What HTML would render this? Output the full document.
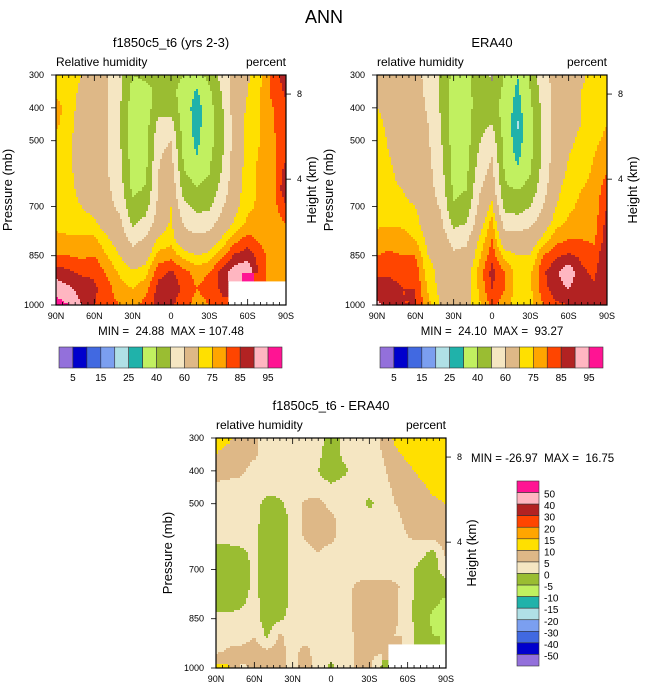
<!DOCTYPE html>
<html><head><meta charset="utf-8"><style>
html,body{margin:0;padding:0;background:#fff;}
svg{display:block;font-family:"Liberation Sans",Arial,sans-serif;}
.pre{white-space:pre;}
</style></head><body>
<svg id="chart" width="648" height="692" viewBox="0 0 648 692" xmlns="http://www.w3.org/2000/svg">
<text x="324" y="23" font-size="18" text-anchor="middle">ANN</text>
<g id="p1"></g>
<g id="p2"></g>
<g id="p3"></g>
<g id="cb1"></g>
<g id="cb2"></g>
<g id="cb3"></g>
</svg>
<script>
const lats=[90,80,70,60,50,40,30,20,10,0,-10,-20,-30,-40,-50,-60,-70,-80,-90];
const pressures=[300,350,400,450,500,550,600,650,700,750,800,850,900,950,1000];
const rhLevels=[5,10,15,20,25,30,40,50,60,70,75,80,85,90,95];
const rhLabels=["5","15","25","40","60","75","85","95"];
const diffLevels=[-50,-40,-30,-20,-15,-10,-5,0,5,10,15,20,30,40,50];
const diffLabels=["50","40","30","20","15","10","5","0","-5","-10","-15","-20","-30","-40","-50"];
const colors=["#9370db","#0000cd","#4169e1","#7b9ff0","#b0e0e6","#20b2aa","#c1f060","#9abd32","#f5e6c2","#deb887","#ffe000","#ffa500","#ff4500","#b22222","#ffb6c1","#ff1493"];
const N=NaN;
const modelCols=[
[72,74,77,76,73,72,72,72,72,73,77,80,88,93,97],
[72,72,73,72,71,71,71,71,71,72,76,80,86,91,95],
[70,69,67,67,67,67,68,69,70,72,76,79,84,88,90],
[66,65,65,64,64,64,65,66,68,71,76,80,84,86,85],
[61,61,61,61,61,61,61,62,63,66,71,75,79,82,82],
[53,52,51,51,51,52,53,55,58,62,66,70,74,77,80],
[40,36,35,34,34,35,36,38,42,48,57,64,71,75,78],
[42,37,35,35,35,36,38,41,46,53,61,67,73,78,82],
[42,42,46,53,57,59,60,61,62,65,71,77,83,87,87],
[43,42,46,54,60,63,66,68,70,71,73,78,86,88,86],
[40,37,35,35,36,38,41,46,53,59,64,73,82,84,82],
[36,29,26,27,28,30,36,41,47,54,63,70,78,80,78],
[43,38,36,35,36,38,40,43,48,56,64,72,80,82,80],
[54,51,49,48,48,49,51,54,59,64,71,79,87,86,83],
[64,64,65,65,65,65,66,67,68,71,78,86,93,N,N],
[69,70,71,72,72,72,73,73,74,76,82,88,95,N,N],
[74,75,75,75,75,76,76,76,76,77,79,82,83,N,N],
[82,82,80,80,79,79,78,78,78,78,78,77,76,N,N],
[88,86,84,83,83,84,88,90,84,80,78,76,76,N,N]];
const eraCols=[
[60,66,70,72,73,73,73,73,73,74,77,80,84,87,91],
[64,66,68,68,69,70,71,71,72,74,78,81,84,87,88],
[66,66,66,66,66,67,68,70,72,74,77,80,83,85,85],
[63,63,64,64,64,64,65,66,70,72,75,80,83,85,85],
[57,58,59,60,61,62,63,64,65,66,68,70,72,74,77],
[48,48,49,50,51,53,54,56,59,62,66,68,68,68,69],
[37,36,35,35,35,36,37,38,41,47,56,62,66,67,68],
[38,37,36,36,36,37,38,40,44,50,58,63,66,67,68],
[44,44,45,47,49,52,56,59,62,66,71,74,77,76,74],
[52,47,46,50,56,60,63,66,72,77,80,83,87,85,82],
[39,37,35,35,36,37,39,42,47,56,64,73,80,80,77],
[30,28,27,24,26,28,32,40,45,55,65,70,73,73,72],
[42,40,38,37,37,38,40,44,50,58,65,70,74,74,73],
[58,55,53,52,52,52,54,56,60,65,72,80,84,83,80],
[62,64,65,65,65,66,67,68,70,73,78,84,89,88,84],
[62,66,68,69,69,70,71,73,74,76,80,86,94,90,85],
[69,70,70,70,71,72,73,75,76,77,80,84,86,87,88],
[72,72,72,73,74,75,76,77,77,78,79,82,84,86,86],
[73,73,74,75,76,78,80,83,85,87,88,90,90,90,90]];
const diffRows=[
[12,11,8,6,3,2,5,3,2,-2,1,2,2,6,11,13,11,11,12],
[10,8,7,6,3,2,3,2,1,-3,1,2,2,5,9,11,12,12,12],
[7,7,6,3,2,2,2,2,0,-3,-1,2,2,4,7,9,11,12,12],
[4,3,3,2,2,2,2,2,2,1,2,2,2,3,6,7,9,11,12],
[3,2,2,2,-2,-1,2,6,7,3,2,2,-1,2,5,6,8,9,10],
[2,2,2,2,-3,-2,1,6,8,7,2,2,2,2,4,6,7,8,9],
[2,2,2,1,-3,-2,1,6,8,7,2,2,2,2,3,5,6,7,8],
[-2,-2,-1,1,-3,-2,1,2,5,2,2,2,2,2,3,4,2,-2,6],
[-3,-3,-2,1,-3,-2,1,2,2,2,2,2,2,2,2,2,-2,-3,4],
[-3,-3,-2,1,-3,-2,1,2,2,2,2,6,7,7,6,3,-3,-4,-3],
[-3,-3,-1,2,-3,-2,1,2,2,2,2,7,7,7,6,2,-3,-4,-6],
[2,2,2,2,-3,-1,2,2,2,2,2,7,8,8,6,2,-3,-6,-8],
[2,2,2,5,-1,6,2,2,2,2,2,6,7,6,5,2,-2,-5,-8],
[4,6,7,7,6,7,3,7,2,2,2,6,6,6,N,N,N,N,N],
[12,11,4,6,6,7,3,8,2,-1,2,6,6,-1,N,N,N,N,N]];
const xTickLabels=["90N","60N","30N","0","30S","60S","90S"];
const xTickLats=[90,60,30,0,-30,-60,-90];
const pTicks=[300,400,500,700,850,1000];
const hTicks=[8,4];
const hTickPressures=[358,617];

const NS="http://www.w3.org/2000/svg";
function mk(tag,attrs,parent,text){const e=document.createElementNS(NS,tag);for(const k in attrs)e.setAttribute(k,attrs[k]);if(text!==undefined)e.textContent=text;parent.appendChild(e);return e;}
function colorFor(v,levels){let i=0;while(i<levels.length&&v>=levels[i])i++;return colors[i];}

function drawPanel(g,x0,y0,getV,levels,o){
  const W=230,H=230;
  const xs=lat=>x0+(90-lat)/180*W;
  const ys=p=>y0+(p-300)/700*H;
  const step=2;
  const nr=pressures.length,nc=lats.length;
  for(let sy=0;sy<H;sy+=step){
    const p=300+(sy+step/2)/H*700;
    const fr=Math.min((p-300)/50,nr-1.0001);
    let runStart=0,runColor=null;
    const flush=(end)=>{ if(runColor&&runColor!=="none"){
        const r=mk('rect',{x:x0+runStart,y:y0+sy,width:end-runStart+0.4,height:step+0.4,fill:runColor},g);
        
        }};
    for(let sx=0;sx<W;sx+=step){
      const lat=90-(sx+step/2)/W*180;
      const fc=Math.min((90-lat)/10,nc-1.0001);
      const r0=Math.floor(fr),c0=Math.floor(fc),tr=fr-r0,tc=fc-c0;
      const a=getV(r0,c0),b=getV(r0,c0+1),c=getV(r0+1,c0),d=getV(r0+1,c0+1);
      let v;
      if(isNaN(a)||isNaN(b)||isNaN(c)||isNaN(d)){
        v=getV(Math.round(fr),Math.round(fc));
      } else v=a*(1-tr)*(1-tc)+b*(1-tr)*tc+c*tr*(1-tc)+d*tr*tc;
      const col=isNaN(v)?"none":colorFor(v,levels);
      if(col!==runColor){flush(sx);runStart=sx;runColor=col;}
    }
    flush(W);
  }
  const fr=mk('rect',{x:x0,y:y0,width:W,height:H,fill:'none',stroke:'#000','stroke-width':1.2},g);
  
  for(let lat=90;lat>=-90;lat-=5){
    const x=xs(lat);const major=(lat%30===0);const L=major?6:3;
    mk('line',{x1:x,y1:y0,x2:x,y2:y0+L,stroke:'#000','stroke-width':0.8},g);
    mk('line',{x1:x,y1:y0+H,x2:x,y2:y0+H-L,stroke:'#000','stroke-width':0.8},g);
  }
  xTickLats.forEach((lat,i)=>{const t=mk('text',{x:xs(lat),y:y0+H+14,'font-size':9,'text-anchor':'middle'},g,xTickLabels[i]);
    });
  pTicks.forEach(p=>{const y=ys(p);mk('line',{x1:x0-5,y1:y,x2:x0,y2:y,stroke:'#000','stroke-width':0.8},g);
    const t=mk('text',{x:x0-12,y:y+3,'font-size':9,'text-anchor':'end'},g,String(p));
    });
  hTicks.forEach((h,i)=>{const y=ys(hTickPressures[i]);mk('line',{x1:x0+W,y1:y,x2:x0+W+5,y2:y,stroke:'#000','stroke-width':0.8},g);
    const t=mk('text',{x:x0+W+11,y:y+3,'font-size':9},g,String(h));
    });
  let t;
  t=mk('text',{x:x0+W/2,y:o.titleY,'font-size':13,'text-anchor':'middle'},g,o.title);
  
  t=mk('text',{x:x0,y:y0-9,'font-size':12},g,o.left);
  
  t=mk('text',{x:x0+W,y:y0-9,'font-size':12,'text-anchor':'end'},g,'percent');
  
  const px=x0-44, hx=x0+W+30;
  t=mk('text',{x:px,y:y0+H/2,'font-size':13,'text-anchor':'middle',transform:`rotate(-90 ${px} ${y0+H/2})`},g,'Pressure (mb)');
  
  t=mk('text',{x:hx,y:y0+H/2,'font-size':13,'text-anchor':'middle',transform:`rotate(-90 ${hx} ${y0+H/2})`},g,'Height (km)');
  
  t=mk('text',{x:o.mmX,y:o.mmY,'font-size':11.5,'text-anchor':o.mmAnchor,'class':'pre'},g,o.mm);
  
}

drawPanel(document.getElementById('p1'),56,75,(r,c)=>modelCols[c][r],rhLevels,
 {title:'f1850c5_t6 (yrs 2-3)',titleY:47,left:'Relative humidity',mm:'MIN =  24.88  MAX = 107.48',mmX:171,mmY:335,mmAnchor:'middle'});
drawPanel(document.getElementById('p2'),377,75,(r,c)=>eraCols[c][r],rhLevels,
 {title:'ERA40',titleY:47,left:'relative humidity',mm:'MIN =  24.10  MAX =  93.27',mmX:492,mmY:335,mmAnchor:'middle'});
drawPanel(document.getElementById('p3'),216,438,(r,c)=>diffRows[r][c],diffLevels,
 {title:'f1850c5_t6 - ERA40',titleY:410,left:'relative humidity',mm:'MIN = -26.97  MAX =  16.75',mmX:471,mmY:462,mmAnchor:'start'});

function hBar(g,x0,y0,w,h){
  const bw=w/colors.length;
  colors.forEach((c,i)=>{const r=mk('rect',{x:x0+i*bw,y:y0,width:bw,height:h,fill:c,stroke:'#333','stroke-width':0.6},g);
    });
  rhLabels.forEach((l,k)=>{const i=2*k+1;const t=mk('text',{x:x0+i*bw,y:y0+h+13,'font-size':10,'text-anchor':'middle'},g,l);
    });
}
hBar(document.getElementById('cb1'),59,347,223,21);
hBar(document.getElementById('cb2'),380,347,223,21);
(function(){
  const g=document.getElementById('cb3');const x0=517,y0=481,w=22,h=185;const bh=h/colors.length;
  for(let i=0;i<colors.length;i++){const c=colors[colors.length-1-i];
    const r=mk('rect',{x:x0,y:y0+i*bh,width:w,height:bh,fill:c,stroke:'#333','stroke-width':0.6},g);
    }
  diffLabels.forEach((l,i)=>{const t=mk('text',{x:x0+w+5,y:y0+(i+1)*bh+5,'font-size':10},g,l);
    });
})();
</script>
</body></html>
